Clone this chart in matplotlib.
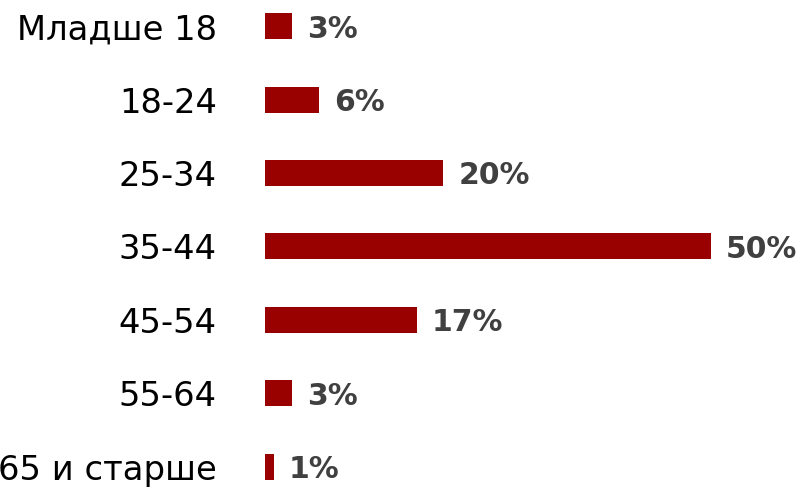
import matplotlib.pyplot as plt

# age groups and share of respondents, %
categories = ['Младше 18', '18-24', '25-34', '35-44', '45-54', '55-64', '65 и старше']
values = [3, 6, 20, 50, 17, 3, 1]
value_labels = ['3%', '6%', '20%', '50%', '17%', '3%', '1%']

bar_color = '#990000'
label_color = '#404040'

plt.rcParams['font.family'] = ['DejaVu Sans']

fig = plt.figure(figsize=(8.07, 4.94), dpi=100)
ax = fig.add_axes([265 / 807, 0.011, 490.6 / 807, 0.9806])

ypos = list(range(len(categories)))
ax.barh(ypos, values, height=0.354, color=bar_color)

for y, v, lab in zip(ypos, values, value_labels):
	ax.text(v + 1.7, y, lab, ha='left', va='center_baseline', fontsize=21.5,
			fontweight='bold', color=label_color, clip_on=False)

ax.set_xlim(0, 55)
ax.set_ylim(6.3, -0.3)
ax.set_yticks(ypos)
ax.set_yticklabels(categories, fontsize=24.3, color='black')
ax.tick_params(axis='y', length=0, pad=34.6)
ax.set_xticks([])
for s in ax.spines.values():
	s.set_visible(False)

fig.savefig('out.png', dpi=100)
